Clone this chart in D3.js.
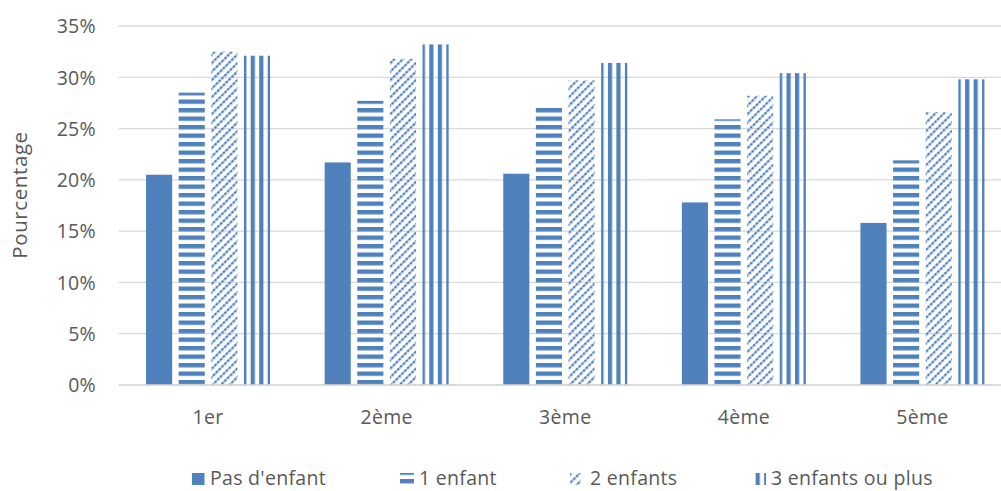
<!DOCTYPE html>
<html>
<head>
<meta charset="utf-8">
<script src="https://cdn.jsdelivr.net/npm/d3@7"></script>
<style>
  html, body { margin: 0; padding: 0; background: #fff; }
  svg { display: block; font-family: "Open Sans", sans-serif; }
</style>
</head>
<body>
<svg id="chart" width="1001" height="491"></svg>
<script>
// Rangs de naissance et séries par nombre d'enfants
const categories = ["1er", "2ème", "3ème", "4ème", "5ème"];
const seriesNames = ["Pas d'enfant", "1 enfant", "2 enfants", "3 enfants ou plus"];
const pasEnfant   = [20.5, 21.7, 20.6, 17.8, 15.8];
const unEnfant    = [28.5, 27.7, 27.2, 25.9, 21.9];
const deuxEnfants = [32.5, 31.8, 29.7, 28.2, 26.6];
const troisPlus   = [32.1, 33.2, 31.4, 30.4, 29.8];
const yTicks = [0, 5, 10, 15, 20, 25, 30, 35];

const seriesValues = [pasEnfant, unEnfant, deuxEnfants, troisPlus];
const BLUE = "#4F81BD";
const TEXT = "#595959";
const GRID = "#d9d9d9";
const FONT = "'Open Sans', sans-serif";
const FS = 19.5;
const LS = 0.3;

const svg = d3.select("#chart");

const plot = { left: 118.75, right: 1011.75, top: 26, bottom: 385 };

const x0 = d3.scaleBand().domain(categories).range([plot.left, plot.right]).padding(0);
const x1 = d3.scaleBand().domain(seriesNames).range([0, 124]).paddingInner(0.2).paddingOuter(0);
const y = d3.scaleLinear().domain([0, 35]).range([plot.bottom, plot.top]);
const groupOffset = (x0.bandwidth() - 124) / 2;

// Motifs de remplissage
const defs = svg.append("defs");
const per = 8.5;

// rayures horizontales
const ph = defs.append("pattern").attr("id", "pat-h")
  .attr("patternUnits", "userSpaceOnUse")
  .attr("x", 0).attr("y", 380 % per)
  .attr("width", 20).attr("height", per);
ph.append("rect").attr("x", 0).attr("y", 0).attr("width", 20).attr("height", 4.4).attr("fill", BLUE);

// rayures verticales, calées sur la première barre
const vx = x0(categories[0]) + groupOffset + x1(seriesNames[3]) + 5.2;
const pv = defs.append("pattern").attr("id", "pat-v")
  .attr("patternUnits", "userSpaceOnUse")
  .attr("x", vx).attr("y", 0)
  .attr("width", per).attr("height", 20);
pv.append("rect").attr("x", 0).attr("y", 0).attr("width", 4.2).attr("height", 20).attr("fill", BLUE);

// diagonales montantes pointillées
const pd = defs.append("pattern").attr("id", "pat-d")
  .attr("patternUnits", "userSpaceOnUse")
  .attr("width", 6).attr("height", 4)
  .attr("patternTransform", "rotate(45)");
pd.append("rect").attr("x", 0).attr("y", 0).attr("width", 2.3).attr("height", 2).attr("fill", BLUE);
pd.append("rect").attr("x", 0).attr("y", 2).attr("width", 2.3).attr("height", 2).attr("fill", "#a7bfdf");

const fills = [BLUE, "url(#pat-h)", "url(#pat-d)", "url(#pat-v)"];

// Quadrillage horizontal
svg.append("g").selectAll("line").data(yTicks).join("line")
  .attr("x1", plot.left).attr("x2", plot.right)
  .attr("y1", d => y(d)).attr("y2", d => y(d))
  .attr("stroke", GRID).attr("stroke-width", 1.3);

// Barres
const groups = svg.append("g").selectAll("g").data(categories).join("g")
  .attr("transform", c => `translate(${x0(c) + groupOffset},0)`);

groups.selectAll("rect")
  .data((c, ci) => seriesNames.map((s, si) => ({ s, si, v: seriesValues[si][ci] })))
  .join("rect")
  .attr("x", d => x1(d.s))
  .attr("width", x1.bandwidth())
  .attr("y", d => y(d.v))
  .attr("height", d => y(0) - y(d.v))
  .attr("fill", d => fills[d.si]);

// Axe des abscisses
svg.append("line")
  .attr("x1", plot.left).attr("x2", plot.right)
  .attr("y1", y(0)).attr("y2", y(0))
  .attr("stroke", GRID).attr("stroke-width", 1.3);

const xAxis = d3.axisBottom(x0).tickSize(0).tickPadding(0);
const gx = svg.append("g").attr("transform", `translate(0,424)`).call(xAxis);
gx.select(".domain").remove();
gx.selectAll("text")
  .attr("fill", TEXT).attr("font-size", FS).attr("font-family", FONT)
  .attr("letter-spacing", LS)
  .attr("dy", 0).attr("y", 0);

// Axe des ordonnées
const yAxis = d3.axisLeft(y).tickValues(yTicks).tickSize(0).tickPadding(0).tickFormat(d => d + "%");
const gy = svg.append("g").attr("transform", `translate(96,0)`).call(yAxis);
gy.select(".domain").remove();
gy.selectAll("text")
  .attr("fill", TEXT).attr("font-size", FS).attr("font-family", FONT)
  .attr("letter-spacing", LS)
  .attr("dy", 6.8);

// Titre de l'axe vertical
svg.append("text")
  .attr("transform", `translate(27,195) rotate(-90)`)
  .attr("text-anchor", "middle")
  .attr("fill", TEXT).attr("font-size", 20.5)
  .attr("letter-spacing", 0.6)
  .text("Pourcentage");

// Légende
const legendX = [192, 400, 570, 753];
const leg = svg.append("g").selectAll("g").data(seriesNames).join("g")
  .attr("transform", (d, i) => `translate(${legendX[i]},473)`);
leg.append("rect")
  .attr("width", (d, i) => [12.5, 14, 10.5, 13][i]).attr("height", 12)
  .attr("fill", (d, i) => fills[i]);
leg.append("text")
  .attr("x", (d, i) => [18, 19, 20, 18][i]).attr("y", 12)
  .attr("fill", TEXT).attr("font-size", FS)
  .attr("letter-spacing", LS)
  .text(d => d);
</script>
</body>
</html>
